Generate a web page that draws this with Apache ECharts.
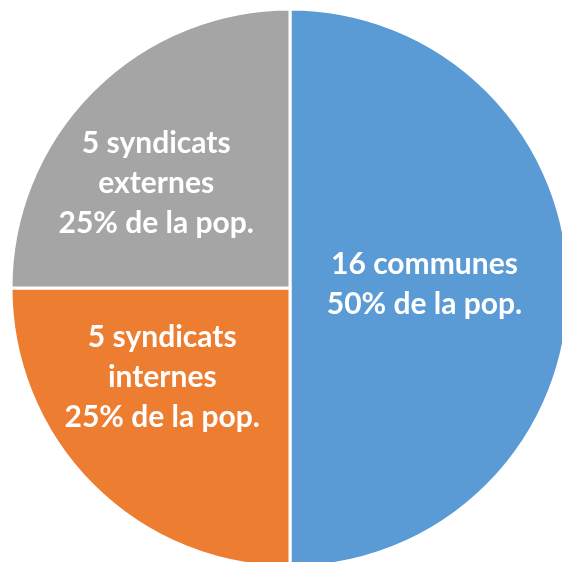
<!DOCTYPE html>
<html>
<head>
<meta charset="utf-8">
<script src="https://cdn.jsdelivr.net/npm/echarts@6/dist/echarts.min.js"></script>
<style>
  html, body { margin: 0; padding: 0; background: #fff; }
  #chart { width: 562px; height: 562px; }
</style>
</head>
<body>
<div id="chart"></div>
<script>
  // slices, clockwise from 12 o'clock
  var names = ['16 communes\n50% de la pop.', '5 syndicats\ninternes\n25% de la pop.', '5 syndicats\nexternes\n25% de la pop.'];
  var values = [50, 25, 25];
  var colors = ['#5B9BD5', '#ED7D31', '#A5A5A5'];
  // label nudges so they sit where the original puts them
  var offsets = [[-8, -4], [-27, -11], [-33, -4]];

  var data = values.map(function (v, i) {
    return {
      value: v,
      name: names[i],
      itemStyle: { color: colors[i] },
      label: { offset: offsets[i] }
    };
  });

  var chart = echarts.init(document.getElementById('chart'));
  chart.setOption({
    animation: false,
    series: [
      {
        type: 'pie',
        center: [290, 288],
        radius: [0, 279],
        startAngle: 90,
        clockwise: true,
        itemStyle: { borderColor: '#fff', borderWidth: 3 },
        label: {
          show: true,
          position: 'inside',
          color: '#fff',
          fontFamily: 'Lato',
          fontWeight: 'bold',
          fontSize: 30,
          lineHeight: 40,
          align: 'center',
          formatter: '{b}'
        },
        labelLine: { show: false },
        emphasis: { disabled: true },
        data: data
      }
    ]
  });
</script>
</body>
</html>
